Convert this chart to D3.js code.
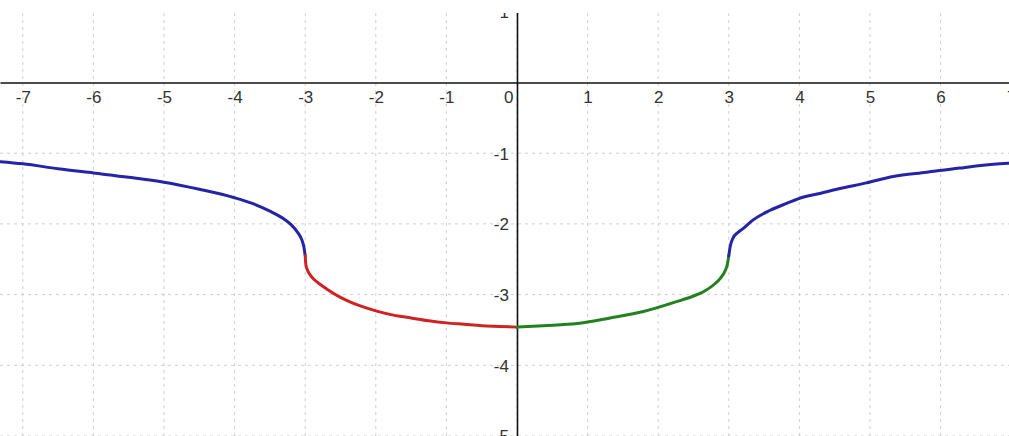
<!DOCTYPE html>
<html>
<head>
<meta charset="utf-8">
<script src="https://cdn.jsdelivr.net/npm/d3@7"></script>
<style>
  html, body { margin: 0; padding: 0; background: #fff; }
  svg { display: block; }
  text { font-family: "Liberation Sans", Arial, sans-serif; fill: #333; }
</style>
</head>
<body>
<svg id="chart" width="1009" height="436"></svg>
<script>
// Tick values on both axes
const xTicks = [-7, -6, -5, -4, -3, -2, -1, 0, 1, 2, 3, 4, 5, 6, 7];
const yTicks = [1, -1, -2, -3, -4, -5];

// Curve pieces, x and y read per piece
const leftOuterX = [-7.32, -7.0, -6.5, -6.0, -5.5, -5.0, -4.5, -4.0, -3.75, -3.5, -3.3, -3.2, -3.1, -3.05, -3.02, -3.0];
const leftOuterY = [-1.12, -1.15, -1.22, -1.28, -1.34, -1.41, -1.51, -1.63, -1.71, -1.82, -1.93, -2.01, -2.13, -2.22, -2.32, -2.45];

const leftInnerX = [-3.0, -2.99, -2.97, -2.93, -2.87, -2.78, -2.68, -2.5, -2.25, -2.0, -1.75, -1.5, -1.25, -1.0, -0.75, -0.5, -0.25, 0];
const leftInnerY = [-2.45, -2.58, -2.65, -2.72, -2.79, -2.86, -2.93, -3.04, -3.15, -3.23, -3.29, -3.33, -3.37, -3.40, -3.42, -3.44, -3.45, -3.46];

const rightInnerX = [0, 0.37, 0.85, 1.32, 1.79, 2.26, 2.5, 2.64, 2.8, 2.88, 2.95, 2.98, 3.0];
const rightInnerY = [-3.46, -3.44, -3.41, -3.33, -3.24, -3.10, -3.02, -2.96, -2.85, -2.77, -2.66, -2.57, -2.45];

const rightOuterX = [3.0, 3.02, 3.06, 3.13, 3.21, 3.35, 3.58, 3.82, 4.06, 4.29, 4.53, 4.95, 5.33, 5.8, 6.27, 6.84, 7.0];
const rightOuterY = [-2.45, -2.32, -2.20, -2.12, -2.06, -1.94, -1.81, -1.71, -1.62, -1.57, -1.51, -1.42, -1.33, -1.27, -1.21, -1.15, -1.14];

const pieceColors = ["#2424a6", "#cf2222", "#23801f", "#2424a6"];

const W = 1009, H = 436, plotTop = 13;
const svg = d3.select("#chart");

const x = d3.scaleLinear().domain([-7.323, 6.969]).range([0, W]);
const y = d3.scaleLinear().domain([1.167, -5.0]).range([0, H]);

// Visible window starts a little below the top edge
svg.append("defs").append("clipPath").attr("id", "win")
  .append("rect").attr("x", 0).attr("y", plotTop).attr("width", W).attr("height", H - plotTop);

const g = svg.append("g").attr("clip-path", "url(#win)");

// Dashed grid
g.append("g").selectAll("line.v").data(xTicks).join("line")
  .attr("x1", d => x(d)).attr("x2", d => x(d))
  .attr("y1", plotTop).attr("y2", H)
  .attr("stroke", "#cfcfcf").attr("stroke-width", 1).attr("stroke-dasharray", "3,4");
g.append("g").selectAll("line.h").data(yTicks).join("line")
  .attr("x1", 0).attr("x2", W)
  .attr("y1", d => y(d)).attr("y2", d => y(d))
  .attr("stroke", "#cfcfcf").attr("stroke-width", 1).attr("stroke-dasharray", "3,4");

// Axes through the origin
const xAxis = d3.axisBottom(x).tickValues(xTicks).tickSize(0).tickFormat(d3.format("d"));
const xg = g.append("g").attr("transform", `translate(0,${y(0)})`).call(xAxis);
xg.select(".domain").attr("stroke", "#111").attr("stroke-width", 1.6);
xg.selectAll(".tick text")
  .attr("dy", "0.95em").attr("y", 4)
  .style("font-size", "17px").style("font-family", "Liberation Sans, Arial, sans-serif").attr("fill", "#333")
  .attr("text-anchor", d => d === 0 ? "end" : "middle")
  .attr("dx", d => d === 0 ? "-4" : "0")
  .text(d => String(d));

const yAxis = d3.axisLeft(y).tickValues(yTicks).tickSize(0).tickFormat(d3.format("d"));
const yg = g.append("g").attr("transform", `translate(${x(0)},0)`).call(yAxis);
yg.select(".domain").attr("stroke", "#111").attr("stroke-width", 1.6);
yg.selectAll(".tick text")
  .attr("x", -8).attr("dy", "0.35em")
  .style("font-size", "17px").style("font-family", "Liberation Sans, Arial, sans-serif").attr("fill", "#333")
  .text(d => String(d));

// Curve
const pieces = [
  d3.zip(leftOuterX, leftOuterY),
  d3.zip(leftInnerX, leftInnerY),
  d3.zip(rightInnerX, rightInnerY),
  d3.zip(rightOuterX, rightOuterY)
];
const line = d3.line().x(d => x(d[0])).y(d => y(d[1])).curve(d3.curveMonotoneX);
g.append("g").selectAll("path").data(pieces).join("path")
  .attr("d", line)
  .attr("fill", "none")
  .attr("stroke", (d, i) => pieceColors[i])
  .attr("stroke-width", 3)
  .attr("stroke-linejoin", "round")
  .attr("stroke-linecap", "round");
</script>
</body>
</html>
